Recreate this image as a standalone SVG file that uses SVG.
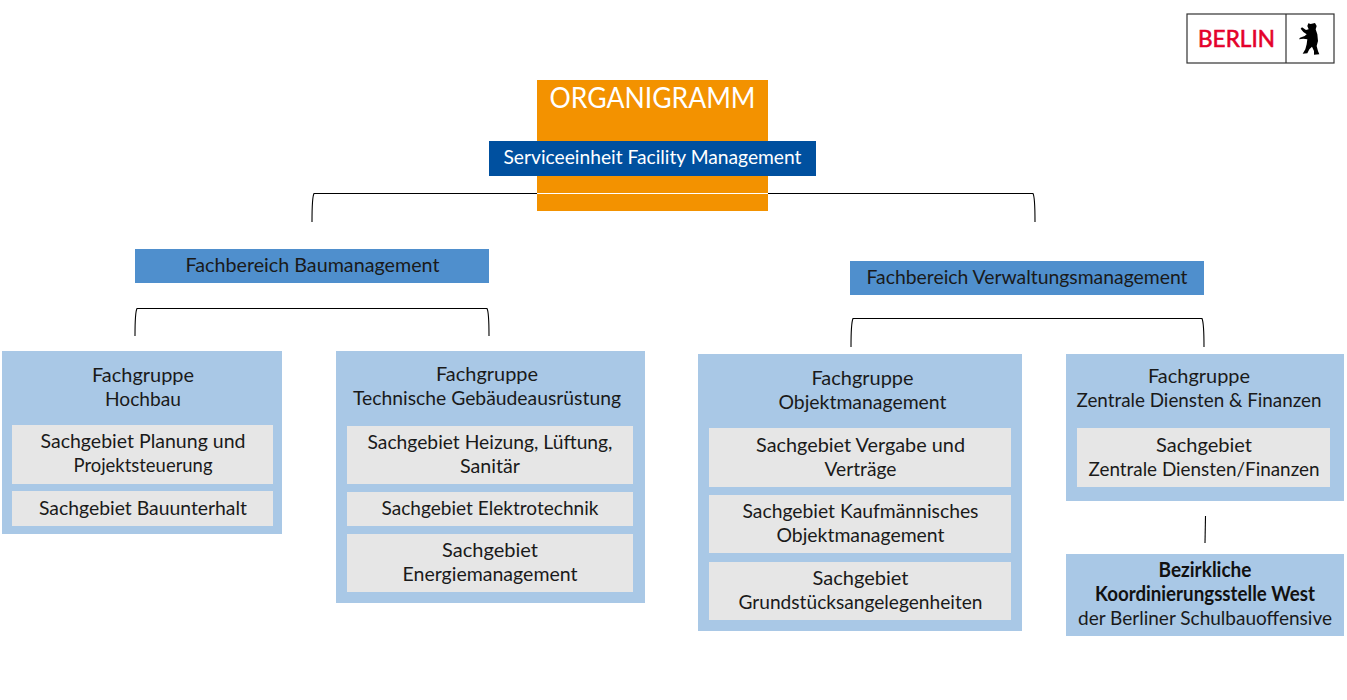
<svg xmlns="http://www.w3.org/2000/svg" width="1347" height="700" viewBox="0 0 1347 700">
<style>
text{font-family:"Lato","Liberation Sans",sans-serif;text-anchor:middle;font-size:20px;fill:#1a1a1a;font-weight:400}
.b{font-weight:700;fill:#111}
.w{fill:#fff;font-weight:400}
.g{fill:#a9c8e6}
.s{fill:#e6e6e6}
.f{fill:#4f8fcd}
.c{fill:none;stroke:#000;stroke-width:1.1}
</style>
<rect width="1347" height="700" fill="#fff"/>
<g id="logo">
<rect x="1187" y="14" width="147" height="49" fill="#fff" stroke="#333" stroke-width="1.2"/>
<line x1="1286" y1="14" x2="1286" y2="63" stroke="#333" stroke-width="1.2"/>
<text x="1236.500" y="47" style="font-size:22.500px;font-weight:400;fill:#e4002b;stroke:#e4002b;stroke-width:.6" textLength="77" lengthAdjust="spacing">BERLIN</text>
<path transform="translate(1290 16) scale(.3333)" d="M55 22L62 24L75 21L80 30L77 40L82 55L84 75L80 90L84 105L88 115L72 116L72 105L66 92L58 100L52 112L38 113L46 100L50 85L52 70L40 68L27 70L30 65L44 60L50 55L40 48L32 38L36 34L48 42L56 40L52 30Z" fill="#000"/>
</g>
<g id="organigramm">
<rect x="537" y="80" width="231" height="131" fill="#f39200"/>
<text class="w" x="652.500" y="108" style="font-size:28px" textLength="206" lengthAdjust="spacingAndGlyphs">ORGANIGRAMM</text>
</g>
<g id="serviceeinheit">
<rect x="489" y="141" width="327" height="35" fill="#00509f"/>
<text class="w" x="652.500" y="164" textLength="298" lengthAdjust="spacingAndGlyphs">Serviceeinheit Facility Management</text>
</g>
<g id="fb-bau">
<rect class="f" x="135" y="249" width="354" height="34"/>
<text x="312.500" y="272" textLength="254" lengthAdjust="spacingAndGlyphs">Fachbereich Baumanagement</text>
</g>
<g id="fb-verw">
<rect class="f" x="850" y="261" width="354" height="34"/>
<text x="1027" y="284" textLength="321" lengthAdjust="spacingAndGlyphs">Fachbereich Verwaltungsmanagement</text>
</g>
<g id="fg-hochbau">
<rect class="g" x="2" y="351" width="280" height="183"/>
<text x="143" y="382" textLength="102" lengthAdjust="spacingAndGlyphs">Fachgruppe</text>
<text x="143" y="406" textLength="76" lengthAdjust="spacingAndGlyphs">Hochbau</text>
</g>
<g id="sg-planung">
<rect class="s" x="12" y="425" width="261" height="59"/>
<text x="143" y="448" textLength="205" lengthAdjust="spacingAndGlyphs">Sachgebiet Planung und</text>
<text x="143" y="472" textLength="139" lengthAdjust="spacingAndGlyphs">Projektsteuerung</text>
</g>
<g id="sg-bauunterhalt">
<rect class="s" x="12" y="491" width="261" height="35"/>
<text x="143" y="515" textLength="208" lengthAdjust="spacingAndGlyphs">Sachgebiet Bauunterhalt</text>
</g>
<g id="fg-technik">
<rect class="g" x="336" y="351" width="309" height="252"/>
<text x="487" y="381" textLength="102" lengthAdjust="spacingAndGlyphs">Fachgruppe</text>
<text x="487" y="405" textLength="268" lengthAdjust="spacingAndGlyphs">Technische Gebäudeausrüstung</text>
</g>
<g id="sg-heizung">
<rect class="s" x="347" y="426" width="286" height="58"/>
<text x="490" y="449" textLength="245" lengthAdjust="spacingAndGlyphs">Sachgebiet Heizung, Lüftung,</text>
<text x="490" y="473" textLength="60" lengthAdjust="spacingAndGlyphs">Sanitär</text>
</g>
<g id="sg-elektro">
<rect class="s" x="347" y="492" width="286" height="34"/>
<text x="490" y="515" textLength="217" lengthAdjust="spacingAndGlyphs">Sachgebiet Elektrotechnik</text>
</g>
<g id="sg-energie">
<rect class="s" x="347" y="534" width="286" height="58"/>
<text x="490" y="557" textLength="96" lengthAdjust="spacingAndGlyphs">Sachgebiet</text>
<text x="490" y="581" textLength="175" lengthAdjust="spacingAndGlyphs">Energiemanagement</text>
</g>
<g id="fg-objekt">
<rect class="g" x="698" y="354" width="324" height="277"/>
<text x="862.500" y="385" textLength="102" lengthAdjust="spacingAndGlyphs">Fachgruppe</text>
<text x="862.500" y="409" textLength="168" lengthAdjust="spacingAndGlyphs">Objektmanagement</text>
</g>
<g id="sg-vergabe">
<rect class="s" x="709" y="428" width="302" height="59"/>
<text x="860.500" y="452" textLength="209" lengthAdjust="spacingAndGlyphs">Sachgebiet Vergabe und</text>
<text x="860.500" y="476" textLength="72" lengthAdjust="spacingAndGlyphs">Verträge</text>
</g>
<g id="sg-kaufm">
<rect class="s" x="709" y="495" width="302" height="58"/>
<text x="860.500" y="518" textLength="236" lengthAdjust="spacingAndGlyphs">Sachgebiet Kaufmännisches</text>
<text x="860.500" y="542" textLength="168" lengthAdjust="spacingAndGlyphs">Objektmanagement</text>
</g>
<g id="sg-grund">
<rect class="s" x="709" y="562" width="302" height="58"/>
<text x="860.500" y="585" textLength="96" lengthAdjust="spacingAndGlyphs">Sachgebiet</text>
<text x="860.500" y="609" textLength="244" lengthAdjust="spacingAndGlyphs">Grundstücksangelegenheiten</text>
</g>
<g id="fg-zentral">
<rect class="g" x="1066" y="354" width="278" height="147"/>
<text x="1199" y="383" textLength="102" lengthAdjust="spacingAndGlyphs">Fachgruppe</text>
<text x="1199" y="407" textLength="245" lengthAdjust="spacingAndGlyphs">Zentrale Diensten &amp; Finanzen</text>
</g>
<g id="sg-zentral">
<rect class="s" x="1077" y="428" width="253" height="59"/>
<text x="1204" y="452" textLength="96" lengthAdjust="spacingAndGlyphs">Sachgebiet</text>
<text x="1204" y="476" textLength="231" lengthAdjust="spacingAndGlyphs">Zentrale Diensten/Finanzen</text>
</g>
<g id="koordinierung">
<rect class="g" x="1066" y="554" width="278" height="82"/>
<text class="b" x="1205" y="577" textLength="93" lengthAdjust="spacingAndGlyphs">Bezirkliche</text>
<text class="b" x="1205" y="601" textLength="220" lengthAdjust="spacingAndGlyphs">Koordinierungsstelle West</text>
<text x="1205" y="625" textLength="254" lengthAdjust="spacingAndGlyphs">der Berliner Schulbauoffensive</text>
</g>
<g id="connectors">
<path class="c" d="M312 222C312 208 312 197 314 193.500H537"/>
<path class="c" d="M768 193.500H1033C1035 197 1035 208 1035 222"/>
<line x1="537" y1="193.500" x2="768" y2="193.500" stroke="#fff" stroke-width="1"/>
<path class="c" d="M135 336C135 322 135 312 137 308.500H487C489 312 489 322 489 336"/>
<path class="c" d="M851 347C851 333 851 323 853 318.500H1202C1204 323 1204 333 1204 347"/>
<path class="c" d="M1205.500 516L1205 543"/>
</g>
</svg>
